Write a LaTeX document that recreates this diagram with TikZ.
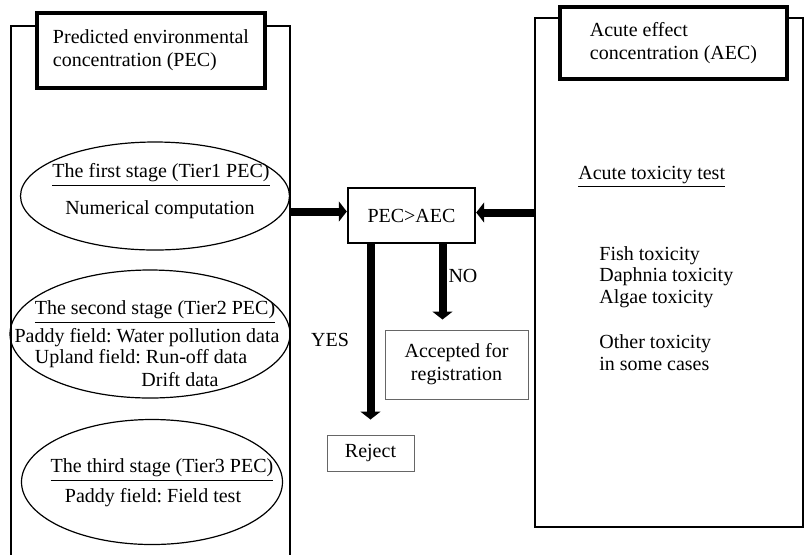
\documentclass[tikz,border=0pt]{standalone}
\usepackage{fontspec}
\setmainfont{Liberation Serif}
\usetikzlibrary{arrows.meta,shapes.geometric}
\frenchspacing

\begin{document}
\begin{tikzpicture}[x=0.5pt,y=-0.5pt,
  every node/.style={font=\fontsize{10}{11.5}\selectfont},
  column/.style={draw,line width=1.2pt,rectangle,inner sep=0pt},
  titlebox/.style={draw,line width=2pt,fill=white,inner sep=0pt,align=left},
  stage/.style={draw,ellipse,line width=0.6pt,inner sep=0pt},
  decision/.style={draw,line width=1.2pt,inner sep=0pt},
  result/.style={draw=black!60,line width=0.5pt,inner sep=0pt,align=center},
  listtext/.style={anchor=west,inner sep=0pt,align=left,font=\fontsize{10}{10.75}\selectfont},
  flowarrow/.style={line width=4pt,-{Triangle[length=4pt,width=10pt]}}]
\useasboundingbox (0,0) rectangle (804,554);
\node[column,minimum width=139.5pt,minimum height=287pt] (pecCol) at (150.5,313) {};
\node[column,minimum width=134pt,minimum height=254.5pt] (aecCol) at (669,272.5) {};
\node[titlebox,minimum width=114pt,minimum height=37.5pt] (pecTitle) at (151,50.5) {Predicted environmental\\concentration (PEC)};
\node[titlebox,minimum width=113.5pt,minimum height=36pt] (aecTitle) at (673.5,43) {Acute effect\\concentration (AEC)};
\node[stage,minimum width=134.5pt,minimum height=54pt] (tier1) at (155,196) {};
\node[stage,minimum width=140pt,minimum height=64pt] (tier2) at (150,334) {};
\node[stage,minimum width=130.5pt,minimum height=62.5pt] (tier3) at (152,482) {};
\node (tier1Head) at (161,175) {\underline{The first stage (Tier1 PEC)}};
\node (tier1Text) at (160,210) {Numerical computation};
\node (tier2Head) at (155,312) {\underline{The second stage (Tier2 PEC)}};
\node (tier2Paddy) at (147,338) {Paddy field: Water pollution data};
\node (tier2Upland) at (141,359) {Upland field: Run-off data};
\node (tier2Drift) at (180,380) {Drift data};
\node (tier3Head) at (162,470) {\underline{The third stage (Tier3 PEC)}};
\node (tier3Text) at (153,498) {Paddy field: Field test};
\node[decision,minimum width=63.5pt,minimum height=27.5pt] (test) at (411.5,215.5) {PEC>AEC};
\node[result,minimum width=71.5pt,minimum height=34.5pt] (accept) at (456.5,364.5) {Accepted for\\registration};
\node[result,minimum width=43.5pt,minimum height=18pt] (reject) at (370.5,453) {Reject};
\node[anchor=west,inner sep=0pt] (aecHead) at (578,177) {\underline{Acute toxicity test}};
\node[listtext] (aecTests) at (599,277) {Fish toxicity\\Daphnia toxicity\\Algae toxicity};
\node[listtext] (aecOther) at (599,352.5) {Other toxicity\\in some cases};
\node (yesLabel) at (330,340) {YES};
\node (noLabel) at (463,276) {NO};
\coordinate (inL) at ([yshift=2pt]test.west);
\coordinate (inR) at ([yshift=1.5pt]test.east);
\coordinate (noEnd) at ([xshift=-7pt]accept.north);
\draw[flowarrow] (pecCol.east |- inL) -- (inL);
\draw[flowarrow] (aecCol.west |- inR) -- (inR);
\draw[flowarrow,shorten >=7.5pt] (test.south -| reject.north) -- (reject.north);
\draw[flowarrow,shorten >=5pt] (test.south -| noEnd) -- (noEnd);
\end{tikzpicture}
\end{document}
